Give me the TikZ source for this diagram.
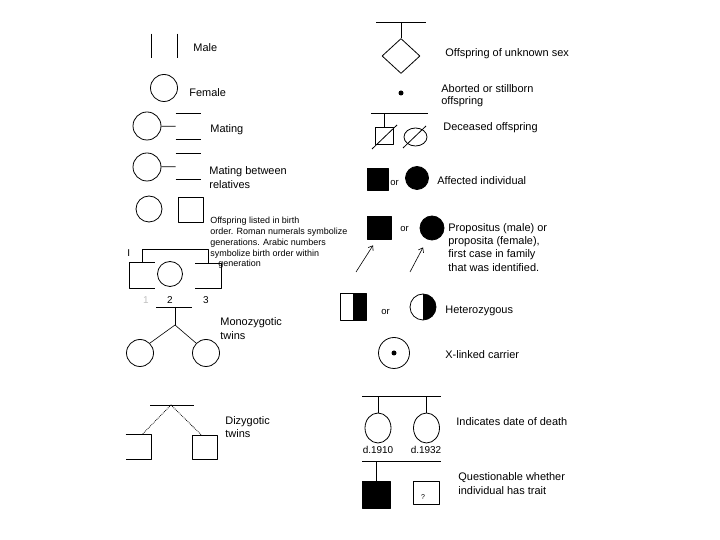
\documentclass[tikz,border=0pt]{standalone}
\usepackage{fontspec}
\setmainfont{Liberation Sans}
\usetikzlibrary{shapes.geometric,arrows.meta}
\begin{document}
\begin{tikzpicture}[>={Straight Barb[length=4bp,width=6bp]},line width=0.8bp,line join=bevel,
  sq/.style={rectangle,draw,inner sep=0pt,minimum width=25bp,minimum height=25bp},
  bare/.style={sq,draw=none},
  ring/.style={circle,draw,inner sep=0pt,minimum size=27bp},
  oval/.style={ellipse,draw,inner sep=0pt},
  halfblack/.style={path picture={\fill (path picture bounding box.north) rectangle (path picture bounding box.south east);}},
  lbl/.style={anchor=base west,inner sep=0pt,font=\fontsize{11}{13}\selectfont},
  para/.style={anchor=north west,inner sep=0pt,align=left,font=\fontsize{11}{#1}\selectfont},
  para/.default=13,
  num/.style={anchor=base,inner sep=0pt,font=\fontsize{10}{12}\selectfont},
  ortxt/.style={anchor=base west,inner sep=0pt,font=\fontsize{9.5}{11}\selectfont}]
\useasboundingbox (0bp,0bp) rectangle (720bp,540bp);
%%
\node (male_sq) at (164.5bp,494bp) [bare,minimum height=24bp] {};
  \node (male_lbl) at (193bp,488bp) [lbl] {Male};
  \node (female_c) at (164bp,452bp) [ring] {};
  \node (female_lbl) at (189bp,443bp) [lbl] {Female};
  \node (mating_f) at (147bp,414bp) [ring,minimum size=28bp] {};
  \node (mating_m) at (188.5bp,413.5bp) [bare] {};
  \node (mating_lbl) at (210bp,407bp) [lbl] {Mating};
  \node (rel_f) at (147bp,373bp) [ring,minimum size=28bp] {};
  \node (rel_m) at (188.5bp,373.5bp) [bare] {};
  \node (rel_lbl) at (209bp,374bp) [para=14] {Mating between\\relatives};
  \node (order_f) at (149bp,331bp) [ring,minimum size=26bp] {};
  \node (order_m) at (190.5bp,330.5bp) [sq] {};
  \node (order_lbl) at (210bp,323.7bp) [para,font=\fontsize{9}{11}\selectfont] {Offspring listed in birth\\order. Roman numerals symbolize\\generations. Arabic numbers\\symbolize birth order within};
  \node (order_lbl2) at (218bp,273bp) [lbl,font=\fontsize{9}{11}\selectfont] {generation};
  \node (gen_i) at (127bp,283bp) [lbl,font=\fontsize{10}{12}\selectfont] {I};
  \node (sib_1) at (142bp,264.5bp) [bare] {};
  \node (sib_2) at (170bp,266bp) [ring,minimum size=25bp] {};
  \node (sib_3) at (208bp,264bp) [bare,minimum height=24bp] {};
  \node (num_1) at (146bp,236bp) [num,text=gray!50] {1};
  \node (num_2) at (170bp,236bp) [num] {2};
  \node (num_3) at (206bp,236bp) [num] {3};
  \coordinate (mz_bar_l) at (156bp,233bp);
  \coordinate (mz_bar_r) at (192bp,233bp);
  \coordinate (mz_top) at (175bp,233bp);
  \coordinate (mz_fork) at (175bp,215bp);
  \node (mz_1) at (140bp,187bp) [ring] {};
  \node (mz_2) at (206bp,187bp) [ring] {};
  \node (mz_lbl) at (220bp,223bp) [para=14] {Monozygotic\\twins};
  \coordinate (dz_bar_l) at (150bp,135bp);
  \coordinate (dz_bar_r) at (194bp,135bp);
  \coordinate (dz_top) at (171bp,135bp);
  \node (dz_1) at (138.5bp,93bp) [bare,minimum height=24bp] {};
  \node (dz_2) at (204.5bp,93bp) [sq,minimum height=24bp] {};
  \node (dz_lbl) at (225bp,124bp) [para=13] {Dizygotic\\twins};
%%
  \coordinate (unk_bar_l) at (376bp,518bp);
  \coordinate (unk_bar_r) at (426bp,518bp);
  \node (unk) at (401bp,484bp) [diamond,draw,inner sep=0pt,minimum width=38bp,minimum height=35bp] {};
  \node (unk_lbl) at (445bp,483bp) [lbl] {Offspring of unknown sex};
  \node (abort) at (401bp,447bp) [circle,fill,inner sep=0pt,minimum size=5bp] {};
  \node (abort_lbl) at (441bp,456bp) [para=12] {Aborted or stillborn\\offspring};
  \coordinate (dec_bar_l) at (371bp,427bp);
  \coordinate (dec_bar_r) at (428bp,427bp);
  \node (dec_m) at (384.5bp,404bp) [sq,minimum width=18bp,minimum height=17bp] {};
  \node (dec_f) at (415.5bp,403bp) [oval,minimum width=23bp,minimum height=18bp] {};
  \node (dec_lbl) at (443bp,409bp) [lbl] {Deceased offspring};
  \node (aff_m) at (377.5bp,361bp) [sq,fill,minimum width=21bp,minimum height=22bp] {};
  \node (aff_or) at (390bp,354bp) [ortxt] {or};
  \node (aff_f) at (417bp,362bp) [ring,fill,minimum size=23bp] {};
  \node (aff_lbl) at (437bp,355bp) [lbl] {Affected individual};
  \node (prop_m) at (379bp,312.5bp) [sq,fill,minimum width=24bp,minimum height=23bp] {};
  \node (prop_or) at (400bp,308bp) [ortxt] {or};
  \node (prop_f) at (432bp,312bp) [ring,fill,minimum size=24bp] {};
  \node (prop_lbl) at (448bp,317bp) [para=13.3] {Propositus (male) or\\proposita (female),\\first case in family\\that was identified.};
  \coordinate (arr_1) at (356bp,268bp);
  \coordinate (arr_2) at (410bp,268bp);
  \node (het_m) at (353bp,233.5bp) [sq,halfblack,minimum width=26bp,minimum height=27bp] {};
  \node (het_or) at (381bp,225bp) [ortxt] {or};
  \node (het_f) at (423bp,233bp) [ring,halfblack,minimum size=26bp] {};
  \node (het_lbl) at (445bp,226bp) [lbl] {Heterozygous};
  \node (xl) at (394bp,187bp) [ring,minimum size=31bp] {};
  \node (xl_dot) at (xl.center) [circle,fill,inner sep=0pt,minimum size=5bp] {};
  \node (xl_lbl) at (445bp,181bp) [lbl] {X-linked carrier};
  \coordinate (dd_bar_l) at (362bp,144bp);
  \coordinate (dd_bar_r) at (441bp,144bp);
  \node (dd_1) at (378bp,112bp) [oval,minimum width=26bp,minimum height=30bp] {};
  \node (dd_2) at (426.5bp,112bp) [oval,minimum width=26bp,minimum height=30bp] {};
  \node (dd_1_lbl) at (378bp,86bp) [num] {d.1910};
  \node (dd_2_lbl) at (426bp,86bp) [num] {d.1932};
  \node (dd_lbl) at (456bp,114bp) [lbl] {Indicates date of death};
  \coordinate (q_bar_l) at (362bp,79bp);
  \coordinate (q_bar_r) at (441bp,79bp);
  \node (q_1) at (376bp,45.5bp) [sq,fill,minimum width=28bp,minimum height=27bp] {};
  \node (q_2) at (426bp,47.5bp) [sq,minimum width=26bp,minimum height=23bp] {};
  \node (q_mark) at (423bp,43bp) [inner sep=0pt,font=\fontsize{7}{8}\selectfont] {?};
  \node (q_lbl) at (458bp,68bp) [para=14] {Questionable whether\\individual has trait};
%
  \draw (male_sq.north west) -- (male_sq.south west);
  \draw (male_sq.north east) -- (male_sq.south east);
  \draw (mating_f) -- (mating_m);
  \draw (mating_m.north west) -- (mating_m.north east);
  \draw (mating_m.south west) -- (mating_m.south east);
  \draw (rel_f) -- (rel_m);
  \draw (rel_m.north west) -- (rel_m.north east);
  \draw (rel_m.south west) -- (rel_m.south east);
  \draw (sib_1.north east) -- (sib_1.north west) -- (sib_1.south west) -- (sib_1.south east);
  \draw (sib_3.north west) -- (sib_3.north east) -- (sib_3.south east) -- (sib_3.south west);
  \draw (sib_1.north) -- ++(0bp,13bp) -| (sib_3.north);
  \draw (mz_bar_l) -- (mz_bar_r);
  \draw (mz_top) -- (mz_fork);
  \draw [line width=0.6bp] (mz_fork) -- (mz_1.45);
  \draw [line width=0.6bp] (mz_fork) -- (mz_2.135);
  \draw (dz_bar_l) -- (dz_bar_r);
  \draw [densely dotted] (dz_top) -- ([xshift=3.5bp]dz_1.north);
  \draw [densely dotted] (dz_top) -- ([xshift=-3.5bp]dz_2.north);
  \draw (dz_1.north west) -- (dz_1.north east) -- (dz_1.south east) -- (dz_1.south west);
  \draw (unk_bar_l) -- (unk_bar_r);
  \draw (unk.north) -- (unk.north |- unk_bar_l);
  \draw (dec_bar_l) -- (dec_bar_r);
  \draw (dec_m.north) -- (dec_m.north |- dec_bar_l);
  \draw ([shift={(-12.5bp,-13bp)}]dec_m.center) -- ([shift={(12.5bp,11bp)}]dec_m.center);
  \draw ([shift={(-12.5bp,-11bp)}]dec_f.center) -- ([shift={(10.5bp,11bp)}]dec_f.center);
  \draw [->,line width=0.6bp] (arr_1) -- ([shift={(-6bp,-6bp)}]prop_m.south);
  \draw [->,line width=0.6bp] (arr_2) -- ([shift={(-9bp,-7bp)}]prop_f.south);
  \draw (dd_bar_l) -- (dd_bar_r);
  \draw (dd_1.north) -- (dd_1.north |- dd_bar_l);
  \draw (dd_2.north) -- (dd_2.north |- dd_bar_l);
  \draw (q_bar_l) -- (q_bar_r);
  \draw (q_1.north) -- (q_1.north |- q_bar_l);
%
\end{tikzpicture}
\end{document}
